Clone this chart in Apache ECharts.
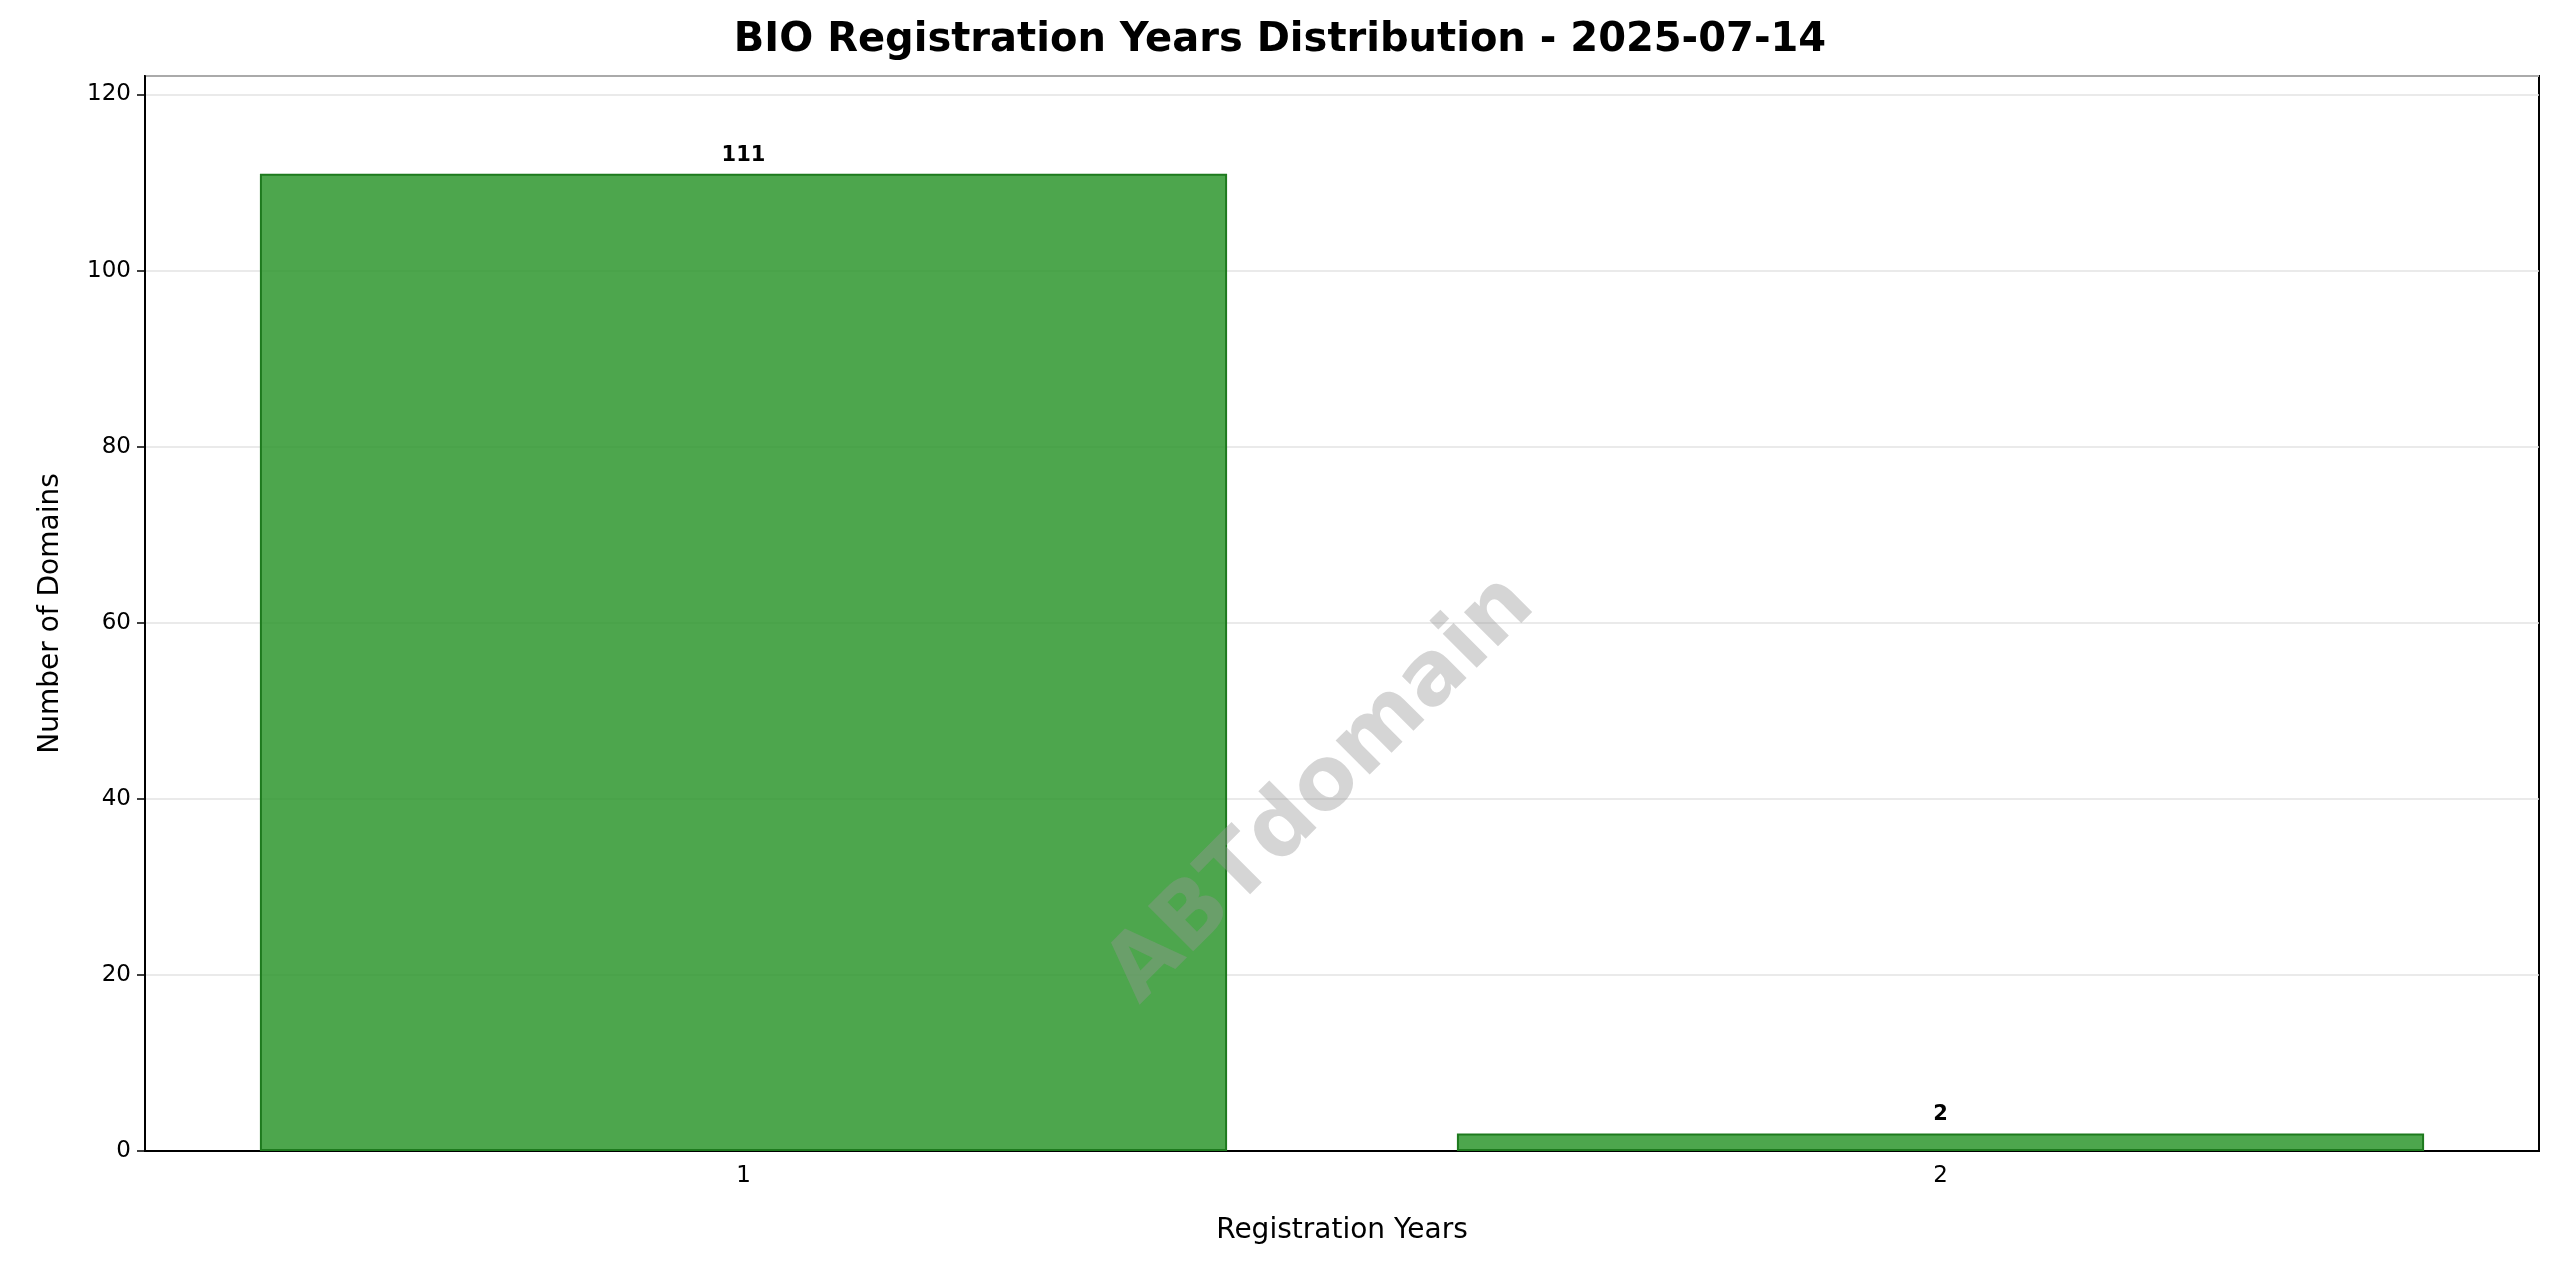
<!DOCTYPE html>
<html><head><meta charset="utf-8">
<script src="https://cdn.jsdelivr.net/npm/echarts@6/dist/echarts.min.js"></script>
<style>html,body{margin:0;padding:0;background:#fff}#c{width:2560px;height:1271px}</style>
</head><body><div id="c"></div>
<script>
const categories = ['1', '2'];
const counts = [111, 2];
const yTicks = [0, 20, 40, 60, 80, 100, 120];

const chart = echarts.init(document.getElementById('c'));
chart.setOption({
  animation: false,
  backgroundColor: '#fff',
  textStyle: { fontFamily: 'DejaVu Sans' },
  title: {
    text: 'BIO Registration Years Distribution - 2025-07-14',
    left: 'center', top: 16,
    textStyle: { fontSize: 40, fontWeight: 'bold', color: '#000', fontFamily: 'DejaVu Sans' }
  },
  grid: { left: 145, right: 21, top: 76, bottom: 120, show: true, borderColor: '#000', borderWidth: 2, backgroundColor: 'transparent' },
  xAxis: {
    type: 'category', data: categories,
    name: 'Registration Years', nameLocation: 'middle', nameGap: 66,
    nameTextStyle: { fontSize: 28, color: '#000' },
    axisLine: { lineStyle: { color: '#000', width: 2 } },
    axisTick: { alignWithLabel: true, length: 8, lineStyle: { color: '#000', width: 1.5 } },
    axisLabel: { fontSize: 23, color: '#000', margin: 14 }
  },
  yAxis: {
    type: 'value', min: yTicks[0], max: 122.1, interval: 20,
    name: 'Number of Domains', nameLocation: 'middle', nameGap: 80,
    nameTextStyle: { fontSize: 28, color: '#000' },
    axisLine: { show: true, lineStyle: { color: '#000', width: 2 } },
    axisTick: { show: true, length: 8, lineStyle: { color: '#000', width: 1.5 } },
    axisLabel: { fontSize: 23, color: '#000', margin: 14, showMaxLabel: false },
    splitLine: { lineStyle: { color: '#e3e3e3', width: 1.5 } }
  },
  series: [{
    type: 'bar', data: counts, barWidth: '80.8%',
    itemStyle: { color: 'rgba(46,150,46,0.85)', borderColor: '#1e7a1e', borderWidth: 2 },
    label: { show: true, position: 'top', fontSize: 21, fontWeight: 'bold', color: '#000', distance: 8 }
  }],
  graphic: [{
    type: 'text', left: 1342 - 250, top: 610 - 50, z: 100,
    rotation: Math.PI / 4, originX: 250, originY: 50,
    style: { text: 'ABTdomain', fontSize: 88, fontWeight: 'bold', fill: 'rgba(150,150,150,0.4)', fontFamily: 'DejaVu Sans' }
  }]
});
</script></body></html>
